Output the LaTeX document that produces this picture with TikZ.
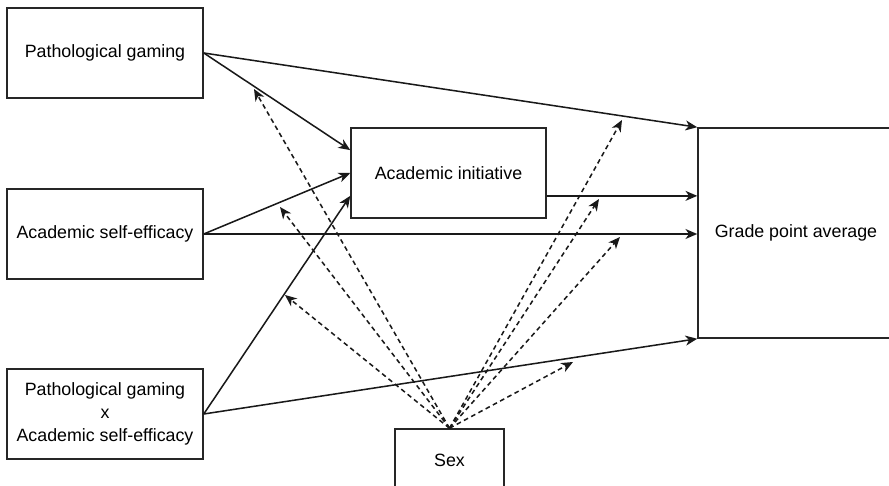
\documentclass[tikz,border=0pt]{standalone}
\usepackage{fontspec}
\setmainfont{Liberation Sans}
\usetikzlibrary{arrows.meta,calc}
\begin{document}
\begin{tikzpicture}[x=0.03cm,y=-0.03cm,
  box/.style={draw=black!85,line width=1.3pt,rectangle,inner sep=0pt,align=center,
    font=\fontsize{15.2}{19.5}\selectfont},
  solidarrow/.style={line width=1.3pt,draw=black!90,-{Stealth[length=10pt,width=8.5pt,inset=3pt]}},
  dasharrow/.style={line width=1.3pt,draw=black!90,dash pattern=on 4pt off 3pt,-{Stealth[length=10pt,width=8.5pt,inset=3pt]}}
]
\useasboundingbox (0,0) rectangle (889,486);
\clip (0,0) rectangle (889,486);
\fill[white] (0,0) rectangle (889,486);

\node[box,minimum width=5.88cm,minimum height=2.7cm] (pg) at (105,53) {Pathological gaming};
\node[box,minimum width=5.88cm,minimum height=2.7cm] (ase) at (105,234) {Academic self-efficacy};
\node[box,minimum width=5.88cm,minimum height=2.7cm] (pgx) at (105,414) {Pathological gaming\\x\\Academic self-efficacy};
\node[box,minimum width=5.85cm,minimum height=2.7cm] (ai) at (448.5,173) {Academic initiative};
\node[box,minimum width=5.88cm,minimum height=6.3cm] (gpa) at (796,233) {Grade point average};
\node[box,minimum width=3.27cm,minimum height=1.86cm] (sex) at (449.5,460) {Sex};

% solid paths
\coordinate (ai1) at ($(ai.north west)!0.25!(ai.south west)$);
\coordinate (ai3) at ($(ai.north west)!0.75!(ai.south west)$);
\coordinate (aiout) at ($(ai.north east)!0.75!(ai.south east)$);
\draw[solidarrow] (pg.east) -- (gpa.north west);
\draw[solidarrow] (pg.east) -- (ai1);
\draw[solidarrow] (ase.east) -- (ai.west);
\draw[solidarrow] (ase.east) -- (ase.east -| gpa.west);
\draw[solidarrow] (pgx.east) -- (ai3);
\draw[solidarrow] (pgx.east) -- (gpa.south west);
\draw[solidarrow] (aiout) -- (aiout -| gpa.west);

% dashed moderation arrows
\coordinate (t1) at (254,89);
\coordinate (t2) at (280,207);
\coordinate (t3) at (285,295);
\coordinate (t4) at (622,120);
\coordinate (t5) at (599,199);
\coordinate (t6) at (620,237);
\coordinate (t7) at (573,362);
\foreach \t in {t1,t2,t3,t4,t5,t6,t7}
  \draw[dasharrow] (sex.north) -- (\t);
\end{tikzpicture}
\end{document}
